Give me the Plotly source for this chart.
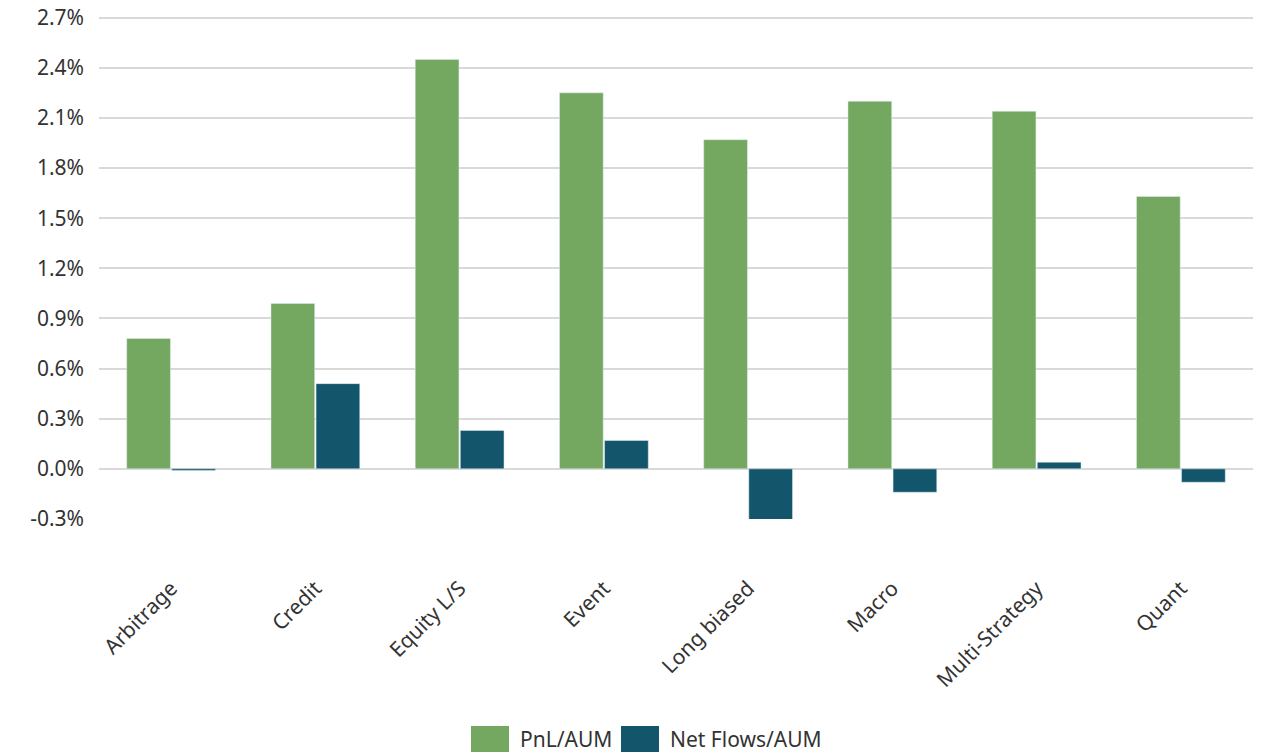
import plotly.graph_objects as go

categories = ["Arbitrage", "Credit", "Equity L/S", "Event", "Long biased", "Macro", "Multi-Strategy", "Quant"]
pnl_aum = [0.0078, 0.0099, 0.0245, 0.0225, 0.0197, 0.0220, 0.0214, 0.0163]
net_flows_aum = [-0.0001, 0.0051, 0.0023, 0.0017, -0.0031, -0.0014, 0.0004, -0.0008]
series_names = ["PnL/AUM", "Net Flows/AUM"]
colors = ["#74A75F", "#13566B"]
tick_vals = [-0.003, 0.0, 0.003, 0.006, 0.009, 0.012, 0.015, 0.018, 0.021, 0.024, 0.027]
tick_text = ["-0.3%", "0.0%", "0.3%", "0.6%", "0.9%", "1.2%", "1.5%", "1.8%", "2.1%", "2.4%", "2.7%"]

FONT = "Noto Sans"
TXT = "#333333"
FS = 21

fig = go.Figure()
fig.add_trace(go.Bar(x=categories, y=pnl_aum, name=series_names[0], marker_color=colors[0], showlegend=False))
fig.add_trace(go.Bar(x=categories, y=net_flows_aum, name=series_names[1], marker_color=colors[1], showlegend=False))

# custom legend (larger swatches)
W, H = 1279, 753
ml, mr, mt, mb = 99, 26, 16, 234
pw, ph = W - ml - mr, H - mt - mb
def px(x):
    return (x - ml) / pw
def py(y):
    return (H - mb - y) / ph

legend_items = [(471, 518), (621, 668)]
for (sx, tx), name, col in zip(legend_items, series_names, colors):
    fig.add_shape(type="rect", xref="paper", yref="paper",
                  x0=px(sx), x1=px(sx + 38), y0=py(752), y1=py(726),
                  fillcolor=col, line=dict(width=0))
    fig.add_annotation(xref="paper", yref="paper", x=px(tx), y=py(739),
                       text=name, showarrow=False, xanchor="left", yanchor="middle",
                       font=dict(family=FONT, size=FS, color=TXT))

fig.update_layout(
    width=W, height=H,
    margin=dict(l=ml, r=mr, t=mt, b=mb),
    barmode="group", bargap=0.375, bargroupgap=0.03,
    plot_bgcolor="white", paper_bgcolor="white",
    font=dict(family=FONT, size=FS, color=TXT),
    showlegend=False,
)
fig.update_xaxes(tickangle=-45, showgrid=False, showline=False, ticks="",
                 automargin=False, ticklabelstandoff=52,
                 tickfont=dict(family=FONT, size=FS, color=TXT))
fig.update_yaxes(range=[-0.003, 0.0271], tickvals=tick_vals, ticktext=tick_text,
                 showgrid=True, gridcolor="#d9d9d9", gridwidth=2,
                 zeroline=True, zerolinecolor="#d9d9d9", zerolinewidth=2,
                 automargin=False, ticklabelstandoff=14,
                 tickfont=dict(family=FONT, size=FS, color=TXT))

fig.write_html("out.html")
